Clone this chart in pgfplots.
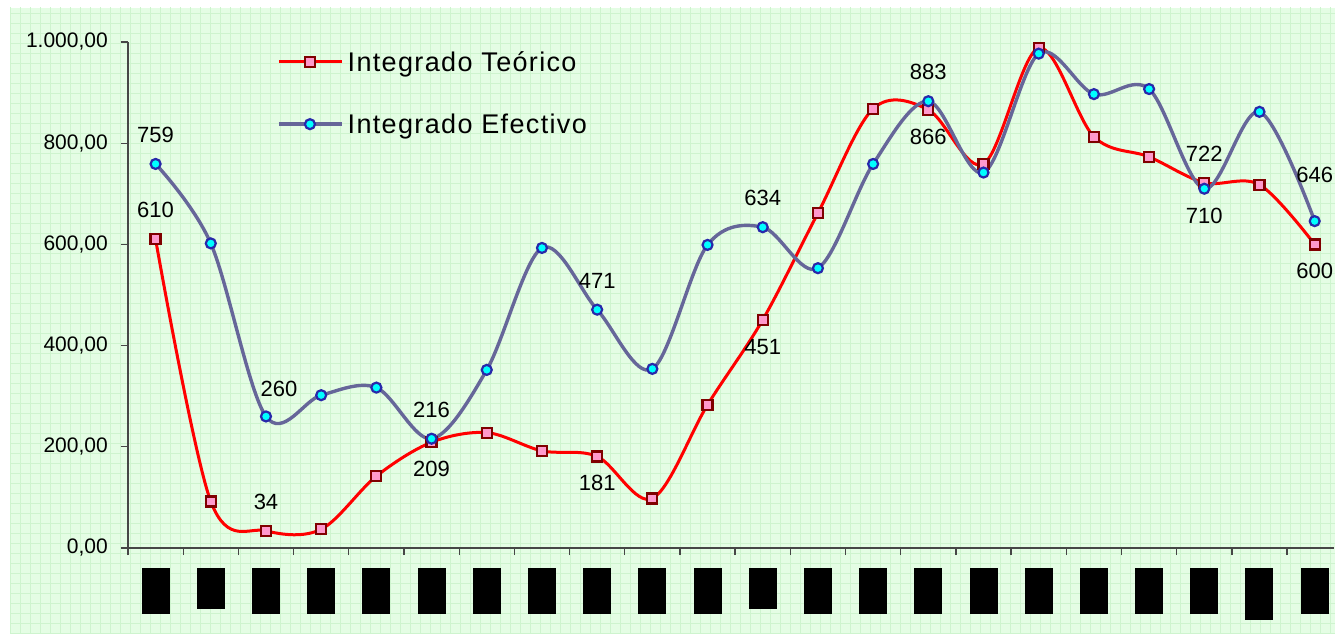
\documentclass[border=0pt]{standalone}
\usepackage{pgfplots}
\pgfplotsset{compat=1.18}
\usepackage{pgfplotstable}
\usepackage{fontspec}
\setmainfont{Liberation Sans}
\definecolor{bggreen}{RGB}{228,253,228}
\definecolor{gridgreen}{RGB}{206,244,206}
\definecolor{tred}{RGB}{255,0,0}
\definecolor{tmarkfill}{RGB}{255,153,204}
\definecolor{tmarkdraw}{RGB}{128,0,0}
\definecolor{eline}{RGB}{102,102,153}
\definecolor{efill}{RGB}{0,255,255}
\definecolor{edraw}{RGB}{40,40,170}
\definecolor{axgray}{RGB}{70,70,70}

\pgfplotstableread{
x y
0 610
1 92
2 34
3 37
4 142
5 209
6 228
7 192
8 181
9 98
10 283
11 451
12 662
13 868
14 866
15 759
16 988
17 813
18 773
19 722
20 718
21 600
}\teorico

\pgfplotstableread{
x y
0 759
1 602
2 260
3 302
4 317
5 216
6 352
7 593
8 471
9 354
10 599
11 634
12 553
13 759
14 883
15 742
16 977
17 897
18 907
19 710
20 862
21 646
}\efectivo

\pgfplotstableread{
x y lab
0 610 610
2 34 34
19 722 722
0 759 759
5 216 216
8 471 471
11 634 634
14 883 883
}\labup

\pgfplotstableread{
x y lab
5 209 209
8 181 181
11 451 451
14 866 866
21 600 600
19 710 710
}\labdown

\newcommand{\lblfont}{\fontsize{21}{25}\selectfont}
\newcommand{\datfont}{\fontsize{22}{26}\selectfont}

\begin{document}
\begin{tikzpicture}
\useasboundingbox (0pt,0pt) rectangle (1335pt,633pt);
\fill[white] (0pt,0pt) rectangle (1335pt,633pt);
\fill[bggreen] (10pt,0pt) rectangle (1335pt,625pt);
\begin{scope}
\clip (10pt,0pt) rectangle (1335pt,625pt);
\draw[gridgreen, line width=0.9pt, step=10pt] (10pt,0pt) grid (1340pt,630pt);
\end{scope}
\begin{axis}[
  at={(128pt,85pt)}, anchor=south west,
  scale only axis, width=1206pt, height=506pt,
  xmin=-0.5, xmax=21.35, ymin=0, ymax=1000,
  axis x line=bottom, axis y line=left,
  axis line style={-, draw=axgray, line width=1.6pt},
  tick style={axgray, line width=1.3pt},
  tick align=outside, major tick length=7pt,
  ytick={0,200,...,1000},
  yticklabel style={font=\lblfont, inner sep=0pt, xshift=-13pt},
  /pgf/number format/fixed, /pgf/number format/fixed zerofill,
  /pgf/number format/precision=2, /pgf/number format/use comma,
  /pgf/number format/1000 sep={.}, /pgf/number format/assume math mode=true,
  xtick={-0.5,0.5,...,20.5}, xticklabel={\mbox{}},
  extra x ticks={0,1,...,21},
  extra x tick labels={\rule{28pt}{46pt},\rule{28pt}{41pt},\rule{28pt}{46pt},\rule{28pt}{46pt},\rule{28pt}{46pt},\rule{28pt}{46pt},\rule{28pt}{46pt},\rule{28pt}{46pt},\rule{28pt}{46pt},\rule{28pt}{46pt},\rule{28pt}{46pt},\rule{28pt}{41pt},\rule{28pt}{46pt},\rule{28pt}{46pt},\rule{28pt}{46pt},\rule{28pt}{46pt},\rule{28pt}{46pt},\rule{28pt}{46pt},\rule{28pt}{46pt},\rule{28pt}{46pt},\rule{28pt}{52pt},\rule{28pt}{46pt}},
  extra x tick style={tickwidth=0pt, xticklabel style={anchor=north, inner sep=0pt, yshift=-20pt}},
  clip=false,
  legend style={at={(0.1236,0.99)}, anchor=north west, draw=none, fill=none,
    font=\fontsize{27}{32}\selectfont\addfontfeature{LetterSpace=5}, row sep=33pt, inner sep=0pt,
    nodes={inner sep=4pt}},
  legend cell align=left,
  legend image code/.code={\draw[#1, mark repeat=2, mark phase=2] plot coordinates {(0pt,0pt) (31pt,0pt) (63pt,0pt)};},
  nodes near coords style={font=\datfont, inner sep=0pt},
]
\addplot[tred, line width=3pt, smooth, tension=0.55, mark=square*, mark size=5pt,
  mark options={fill=tmarkfill, draw=tmarkdraw, line width=2.2pt, solid}] table {\teorico};
\addlegendentry{Integrado Teórico}
\addplot[eline, line width=3.4pt, smooth, tension=0.55, mark=*, mark size=5pt,
  mark options={fill=efill, draw=edraw, line width=2.2pt, solid}] table {\efectivo};
\addlegendentry{Integrado Efectivo}

\addplot[draw=none, mark=none, forget plot, nodes near coords, point meta=explicit symbolic,
  every node near coord/.append style={anchor=south, yshift=21pt}] table[meta=lab] {\labup};
\addplot[draw=none, mark=none, forget plot, nodes near coords, point meta=explicit symbolic,
  every node near coord/.append style={anchor=north, yshift=-19pt}] table[meta=lab] {\labdown};
\addplot[draw=none, mark=none, forget plot, nodes near coords, point meta=explicit symbolic,
  every node near coord/.append style={anchor=south, yshift=20pt, xshift=13pt}] table[meta=lab] {
x y lab
2 260 260
};
\addplot[draw=none, mark=none, forget plot, nodes near coords, point meta=explicit symbolic,
  every node near coord/.append style={anchor=south, yshift=38pt}] table[meta=lab] {
x y lab
21 646 646
};
\end{axis}
\end{tikzpicture}
\end{document}
